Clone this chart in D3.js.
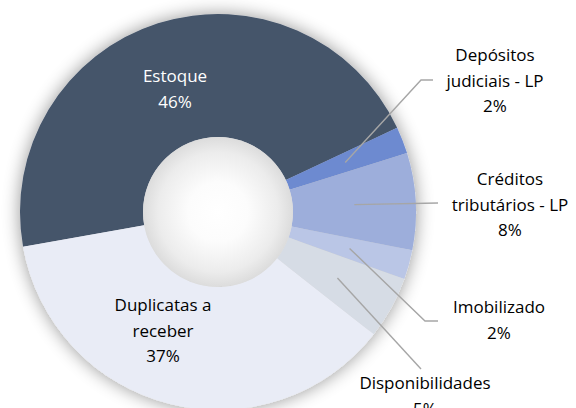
<!DOCTYPE html>
<html>
<head>
<meta charset="utf-8">
<script src="https://cdn.jsdelivr.net/npm/d3@7"></script>
<style>
  body { margin: 0; background: #fff; }
  svg { display: block; }
  text { font-family: "Open Sans", Lato, sans-serif; }
</style>
</head>
<body>
<svg id="chart" width="576" height="408"></svg>
<script>
const categories = [
  "Estoque",
  "Depósitos judiciais - LP",
  "Créditos tributários - LP",
  "Imobilizado",
  "Disponibilidades",
  "Duplicatas a receber"
];
const values = [45.8, 2.2, 7.9, 2.4, 5.1, 36.6];
const labelLines = [
  ["Estoque"],
  ["Depósitos", "judiciais - LP"],
  ["Créditos", "tributários - LP"],
  ["Imobilizado"],
  ["Disponibilidades"],
  ["Duplicatas a", "receber"]
];

const colors = ["#44546A", "#6D8AD0", "#9DAEDB", "#BAC6E6", "#D6DCE5", "#E9ECF6"];
const textColors = ["#fff", "#000", "#000", "#000", "#000", "#000"];

// label anchors: center x and baseline of first line
const labelPos = [[175, 82], [495, 61], [510, 185], [499, 313], [425, 389], [163, 311]];
// leader line bend / end points (null = label sits inside slice)
const leaderPts = [
  null,
  [[421, 80], [433, 80]],
  [[438, 203]],
  [[425, 321], [438, 321]],
  [[421, 369]],
  null
];

const svg = d3.select("#chart");
const cx = 218, cy = 212, outerR = 198, innerR = 75;
const lineH = 25.5;

const defs = svg.append("defs");
const glow = defs.append("filter").attr("id", "glow")
  .attr("x", "-20%").attr("y", "-20%").attr("width", "140%").attr("height", "140%");
glow.append("feGaussianBlur").attr("in", "SourceAlpha").attr("stdDeviation", 9).attr("result", "blur");
glow.append("feComponentTransfer").attr("in", "blur").attr("result", "soft")
  .append("feFuncA").attr("type", "linear").attr("slope", 0.42);
const merge = glow.append("feMerge");
merge.append("feMergeNode").attr("in", "soft");
merge.append("feMergeNode").attr("in", "SourceGraphic");

const hole = defs.append("radialGradient").attr("id", "hole");
hole.append("stop").attr("offset", "0%").attr("stop-color", "#ffffff");
hole.append("stop").attr("offset", "40%").attr("stop-color", "#fcfcfc");
hole.append("stop").attr("offset", "80%").attr("stop-color", "#ececec");
hole.append("stop").attr("offset", "100%").attr("stop-color", "#dcdcdc");

const startA = -100.1 * Math.PI / 180;
const pie = d3.pie().sort(null).value(d => d)
  .startAngle(startA).endAngle(startA + 2 * Math.PI);
const arcs = pie(values);
const arc = d3.arc().innerRadius(innerR).outerRadius(outerR);
const total = d3.sum(values);

const g = svg.append("g").attr("transform", `translate(${cx},${cy})`);

g.append("g").attr("filter", "url(#glow)")
  .selectAll("path")
  .data(arcs)
  .join("path")
  .attr("d", arc)
  .attr("fill", (d, i) => colors[i]);

g.append("circle").attr("r", innerR).attr("fill", "url(#hole)");

// leader lines
arcs.forEach((d, i) => {
  if (!leaderPts[i]) return;
  const c = arc.centroid(d);
  const pts = [[c[0] + cx, c[1] + cy]].concat(leaderPts[i]);
  svg.append("path")
    .attr("d", d3.line()(pts))
    .attr("fill", "none")
    .attr("stroke", "#A6A6A6")
    .attr("stroke-width", 1.4);
});

// labels
arcs.forEach((d, i) => {
  const pct = Math.round(d.value / total * 100) + "%";
  const lines = labelLines[i].concat([pct]);
  const t = svg.append("text")
    .attr("text-anchor", "middle")
    .attr("font-size", "17px")
    .attr("fill", textColors[i]);
  lines.forEach((ln, k) => {
    t.append("tspan")
      .attr("x", labelPos[i][0])
      .attr("y", labelPos[i][1] + k * lineH)
      .text(ln);
  });
});
</script>
</body>
</html>
